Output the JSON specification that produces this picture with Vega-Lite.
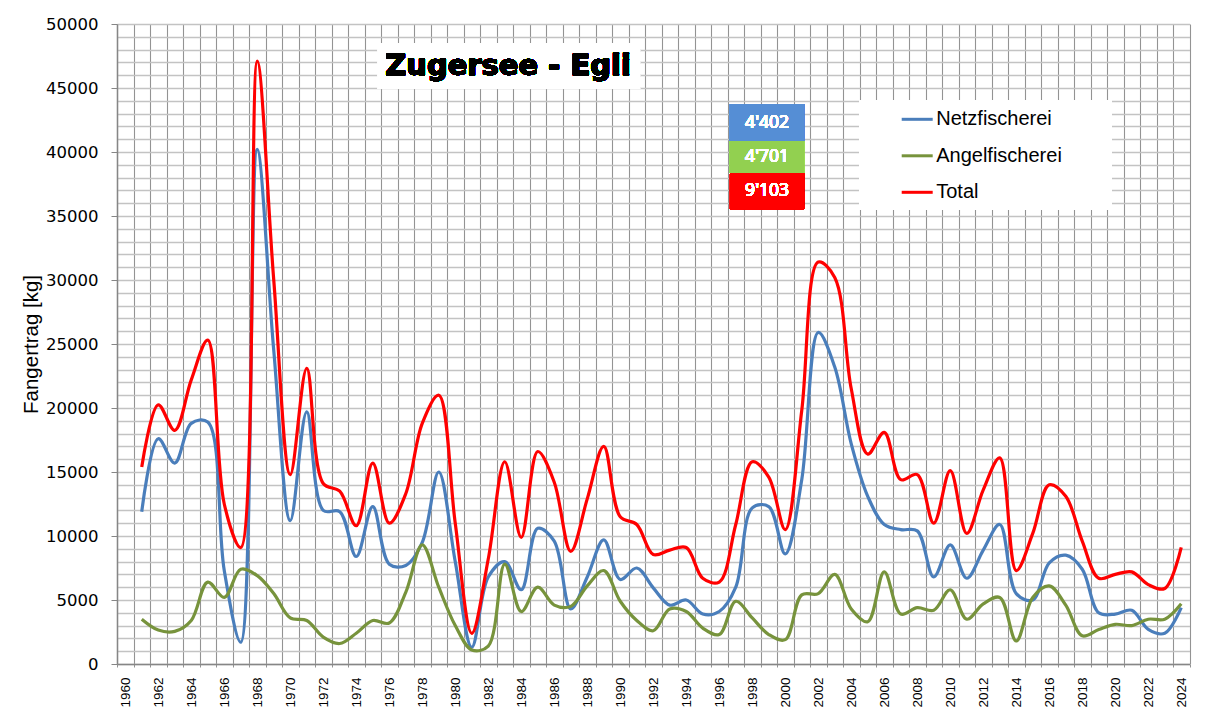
{
  "$schema": "https://vega.github.io/schema/vega-lite/v6.json",
  "width": 1072.5,
  "height": 640,
  "autosize": {"type": "none"},
  "padding": {"left": 117, "top": 24, "right": 23.5, "bottom": 58},
  "background": "white",
  "config": {"view": {"stroke": null}},
  "resolve": {"axis": {"x": "independent", "y": "independent"}},
  "data": {
    "values": [
      {"Jahr": 1961, "Netzfischerei": 11900, "Angelfischerei": 3500, "Total": 15400},
      {"Jahr": 1962, "Netzfischerei": 17600, "Angelfischerei": 2650, "Total": 20250},
      {"Jahr": 1963, "Netzfischerei": 15700, "Angelfischerei": 2550, "Total": 18250},
      {"Jahr": 1964, "Netzfischerei": 18800, "Angelfischerei": 3400, "Total": 22200},
      {"Jahr": 1965, "Netzfischerei": 18900, "Angelfischerei": 6400, "Total": 25300},
      {"Jahr": 1966, "Netzfischerei": 7300, "Angelfischerei": 5200, "Total": 12500},
      {"Jahr": 1967, "Netzfischerei": 1700, "Angelfischerei": 7400, "Total": 9100},
      {"Jahr": 1968, "Netzfischerei": 40200, "Angelfischerei": 6900, "Total": 47100},
      {"Jahr": 1969, "Netzfischerei": 24500, "Angelfischerei": 5500, "Total": 30000},
      {"Jahr": 1970, "Netzfischerei": 11200, "Angelfischerei": 3600, "Total": 14800},
      {"Jahr": 1971, "Netzfischerei": 19700, "Angelfischerei": 3400, "Total": 23100},
      {"Jahr": 1972, "Netzfischerei": 12000, "Angelfischerei": 2100, "Total": 14100},
      {"Jahr": 1973, "Netzfischerei": 11900, "Angelfischerei": 1600, "Total": 13500},
      {"Jahr": 1974, "Netzfischerei": 8400, "Angelfischerei": 2400, "Total": 10800},
      {"Jahr": 1975, "Netzfischerei": 12300, "Angelfischerei": 3400, "Total": 15700},
      {"Jahr": 1976, "Netzfischerei": 7800, "Angelfischerei": 3200, "Total": 11000},
      {"Jahr": 1977, "Netzfischerei": 7700, "Angelfischerei": 5600, "Total": 13300},
      {"Jahr": 1978, "Netzfischerei": 9500, "Angelfischerei": 9300, "Total": 18800},
      {"Jahr": 1979, "Netzfischerei": 15000, "Angelfischerei": 6000, "Total": 21000},
      {"Jahr": 1980, "Netzfischerei": 8000, "Angelfischerei": 3000, "Total": 11000},
      {"Jahr": 1981, "Netzfischerei": 1300, "Angelfischerei": 1100, "Total": 2400},
      {"Jahr": 1982, "Netzfischerei": 6800, "Angelfischerei": 1400, "Total": 8200},
      {"Jahr": 1983, "Netzfischerei": 8000, "Angelfischerei": 7800, "Total": 15800},
      {"Jahr": 1984, "Netzfischerei": 5800, "Angelfischerei": 4100, "Total": 9900},
      {"Jahr": 1985, "Netzfischerei": 10600, "Angelfischerei": 6000, "Total": 16600},
      {"Jahr": 1986, "Netzfischerei": 9600, "Angelfischerei": 4600, "Total": 14200},
      {"Jahr": 1987, "Netzfischerei": 4300, "Angelfischerei": 4500, "Total": 8800},
      {"Jahr": 1988, "Netzfischerei": 6800, "Angelfischerei": 6100, "Total": 12900},
      {"Jahr": 1989, "Netzfischerei": 9700, "Angelfischerei": 7300, "Total": 17000},
      {"Jahr": 1990, "Netzfischerei": 6600, "Angelfischerei": 4900, "Total": 11500},
      {"Jahr": 1991, "Netzfischerei": 7500, "Angelfischerei": 3400, "Total": 10900},
      {"Jahr": 1992, "Netzfischerei": 5950, "Angelfischerei": 2600, "Total": 8550},
      {"Jahr": 1993, "Netzfischerei": 4600, "Angelfischerei": 4300, "Total": 8900},
      {"Jahr": 1994, "Netzfischerei": 5000, "Angelfischerei": 4100, "Total": 9100},
      {"Jahr": 1995, "Netzfischerei": 3900, "Angelfischerei": 2800, "Total": 6700},
      {"Jahr": 1996, "Netzfischerei": 4100, "Angelfischerei": 2300, "Total": 6400},
      {"Jahr": 1997, "Netzfischerei": 6000, "Angelfischerei": 4900, "Total": 10900},
      {"Jahr": 1998, "Netzfischerei": 12200, "Angelfischerei": 3600, "Total": 15800},
      {"Jahr": 1999, "Netzfischerei": 12300, "Angelfischerei": 2300, "Total": 14600},
      {"Jahr": 2000, "Netzfischerei": 8600, "Angelfischerei": 1900, "Total": 10500},
      {"Jahr": 2001, "Netzfischerei": 14400, "Angelfischerei": 5400, "Total": 19800},
      {"Jahr": 2002, "Netzfischerei": 25900, "Angelfischerei": 5500, "Total": 31400},
      {"Jahr": 2003, "Netzfischerei": 23200, "Angelfischerei": 7000, "Total": 30200},
      {"Jahr": 2004, "Netzfischerei": 17200, "Angelfischerei": 4300, "Total": 21500},
      {"Jahr": 2005, "Netzfischerei": 13100, "Angelfischerei": 3300, "Total": 16400},
      {"Jahr": 2006, "Netzfischerei": 10900, "Angelfischerei": 7200, "Total": 18100},
      {"Jahr": 2007, "Netzfischerei": 10500, "Angelfischerei": 3900, "Total": 14400},
      {"Jahr": 2008, "Netzfischerei": 10400, "Angelfischerei": 4400, "Total": 14800},
      {"Jahr": 2009, "Netzfischerei": 6800, "Angelfischerei": 4200, "Total": 11000},
      {"Jahr": 2010, "Netzfischerei": 9300, "Angelfischerei": 5800, "Total": 15100},
      {"Jahr": 2011, "Netzfischerei": 6700, "Angelfischerei": 3500, "Total": 10200},
      {"Jahr": 2012, "Netzfischerei": 8900, "Angelfischerei": 4700, "Total": 13600},
      {"Jahr": 2013, "Netzfischerei": 10900, "Angelfischerei": 5200, "Total": 16100},
      {"Jahr": 2014, "Netzfischerei": 5500, "Angelfischerei": 1800, "Total": 7300},
      {"Jahr": 2015, "Netzfischerei": 5000, "Angelfischerei": 5200, "Total": 10200},
      {"Jahr": 2016, "Netzfischerei": 7900, "Angelfischerei": 6100, "Total": 14000},
      {"Jahr": 2017, "Netzfischerei": 8500, "Angelfischerei": 4600, "Total": 13100},
      {"Jahr": 2018, "Netzfischerei": 7400, "Angelfischerei": 2200, "Total": 9600},
      {"Jahr": 2019, "Netzfischerei": 4000, "Angelfischerei": 2700, "Total": 6700},
      {"Jahr": 2020, "Netzfischerei": 3900, "Angelfischerei": 3100, "Total": 7000},
      {"Jahr": 2021, "Netzfischerei": 4200, "Angelfischerei": 3000, "Total": 7200},
      {"Jahr": 2022, "Netzfischerei": 2700, "Angelfischerei": 3500, "Total": 6200},
      {"Jahr": 2023, "Netzfischerei": 2400, "Angelfischerei": 3500, "Total": 5900},
      {"Jahr": 2024, "Netzfischerei": 4402, "Angelfischerei": 4701, "Total": 9103}
    ]
  },
  "layer": [
    {
      "transform": [{"fold": ["Netzfischerei", "Angelfischerei", "Total"], "as": ["Serie", "Wert"]}],
      "mark": {"type": "line", "interpolate": "catmull-rom", "strokeWidth": 3.2},
      "encoding": {
        "x": {
          "field": "Jahr", "type": "quantitative",
          "scale": {"domain": [1959.5, 2024.5], "nice": false, "zero": false},
          "axis": {
            "title": null,
            "values": [1959.5,1960.5,1961.5,1962.5,1963.5,1964.5,1965.5,1966.5,1967.5,1968.5,1969.5,1970.5,1971.5,1972.5,1973.5,1974.5,1975.5,1976.5,1977.5,1978.5,1979.5,1980.5,1981.5,1982.5,1983.5,1984.5,1985.5,1986.5,1987.5,1988.5,1989.5,1990.5,1991.5,1992.5,1993.5,1994.5,1995.5,1996.5,1997.5,1998.5,1999.5,2000.5,2001.5,2002.5,2003.5,2004.5,2005.5,2006.5,2007.5,2008.5,2009.5,2010.5,2011.5,2012.5,2013.5,2014.5,2015.5,2016.5,2017.5,2018.5,2019.5,2020.5,2021.5,2022.5,2023.5,2024.5],
            "labelExpr": "(datum.value + 0.5) % 2 === 0 && datum.value < 2024 ? '' + (datum.value + 0.5) : ''",
            "labelOffset": 8.25,
            "labelAngle": -90,
            "labelFont": "Liberation Sans",
            "labelFontSize": 13.5,
            "labelColor": "black",
            "labelPadding": 10,
            "labelFlush": false,
            "labelOverlap": false,
            "labelBound": false,
            "tickSize": 3,
            "tickColor": "#939393",
            "grid": true,
            "gridColor": "#939393",
            "gridWidth": 1.1,
            "domainColor": "#868686",
            "domainWidth": 1.5
          }
        },
        "y": {
          "field": "Wert", "type": "quantitative",
          "scale": {"domain": [0, 50000], "nice": false},
          "axis": {
            "title": "Fangertrag [kg]",
            "titleFont": "Liberation Sans",
            "titleFontSize": 20.5,
            "titleFontWeight": "normal",
            "titleColor": "black",
            "titlePadding": 4,
            "values": [0,1000,2000,3000,4000,5000,6000,7000,8000,9000,10000,11000,12000,13000,14000,15000,16000,17000,18000,19000,20000,21000,22000,23000,24000,25000,26000,27000,28000,29000,30000,31000,32000,33000,34000,35000,36000,37000,38000,39000,40000,41000,42000,43000,44000,45000,46000,47000,48000,49000,50000],
            "format": "d",
            "labelExpr": "datum.value % 5000 === 0 ? datum.label : ''",
            "labelFont": "DejaVu Sans",
            "labelFontSize": 16.5,
            "labelColor": "black",
            "labelPadding": 13,
            "labelFlush": false,
            "labelOverlap": false,
            "tickSize": 6,
            "tickColor": "#868686",
            "tickOpacity": {"condition": {"test": "datum.value % 5000 === 0", "value": 1}, "value": 0},
            "grid": true,
            "gridColor": "#c3c3c3",
            "gridWidth": 1.5,
            "domainColor": "#868686",
            "domainWidth": 1.5
          }
        },
        "color": {
          "field": "Serie", "type": "nominal",
          "scale": {"domain": ["Netzfischerei", "Angelfischerei", "Total"], "range": ["#4a7ebb", "#77933c", "#ff0000"]},
          "legend": {
            "orient": "none",
            "legendX": 783.2,
            "legendY": 78.3,
            "title": null,
            "symbolType": "stroke",
            "symbolSize": 961,
            "symbolStrokeWidth": 3,
            "labelFont": "Liberation Sans",
            "labelFontSize": 20,
            "labelColor": "black",
            "labelOffset": 2,
            "rowPadding": 9.5,
            "padding": 0
          }
        }
      }
    },
    {
      "mark": {"type": "rect", "fill": "white"},
      "encoding": {
        "x": {"datum": 1975.3, "type": "quantitative", "axis": null},
        "x2": {"datum": 1991.2},
        "y": {"datum": 48520, "type": "quantitative", "axis": null},
        "y2": {"datum": 44920}
      }
    },
    {
      "mark": {"type": "text", "font": "DejaVu Sans", "fontWeight": "bold", "fontSize": 29, "fill": "black", "stroke": "black", "strokeWidth": 0.4, "align": "center", "baseline": "middle"},
      "encoding": {
        "x": {"datum": 1983.2, "type": "quantitative", "axis": null},
        "y": {"datum": 46720, "type": "quantitative", "axis": null},
        "text": {"datum": "Zugersee - Egli"}
      }
    },
    {
      "mark": {"type": "rect", "fill": "white"},
      "encoding": {
        "x": {"datum": 2004.49, "type": "quantitative", "axis": null},
        "x2": {"datum": 2019.8},
        "y": {"datum": 44060, "type": "quantitative", "axis": null},
        "y2": {"datum": 35470}
      }
    },
    {
      "mark": {"type": "rect", "fill": "#558ed5"},
      "encoding": {
        "x": {"datum": 1996.65, "type": "quantitative", "axis": null},
        "x2": {"datum": 2001.14},
        "y": {"datum": 43750, "type": "quantitative", "axis": null},
        "y2": {"datum": 40860}
      }
    },
    {
      "mark": {"type": "rect", "fill": "#92d050"},
      "encoding": {
        "x": {"datum": 1996.65, "type": "quantitative", "axis": null},
        "x2": {"datum": 2001.14},
        "y": {"datum": 40860, "type": "quantitative", "axis": null},
        "y2": {"datum": 38340}
      }
    },
    {
      "mark": {"type": "rect", "fill": "#ff0000"},
      "encoding": {
        "x": {"datum": 1996.65, "type": "quantitative", "axis": null},
        "x2": {"datum": 2001.14},
        "y": {"datum": 38340, "type": "quantitative", "axis": null},
        "y2": {"datum": 35520}
      }
    },
    {
      "mark": {"type": "text", "font": "Noto Sans", "fontWeight": "normal", "fontSize": 17.5, "fill": "white", "align": "center", "baseline": "middle"},
      "encoding": {
        "x": {"datum": 1998.9, "type": "quantitative", "axis": null},
        "y": {"datum": 42300, "type": "quantitative", "axis": null},
        "text": {"datum": "4'402"}
      }
    },
    {
      "mark": {"type": "text", "font": "Noto Sans", "fontWeight": "normal", "fontSize": 17.5, "fill": "white", "align": "center", "baseline": "middle"},
      "encoding": {
        "x": {"datum": 1998.9, "type": "quantitative", "axis": null},
        "y": {"datum": 39610, "type": "quantitative", "axis": null},
        "text": {"datum": "4'701"}
      }
    },
    {
      "mark": {"type": "text", "font": "Noto Sans", "fontWeight": "normal", "fontSize": 17.5, "fill": "white", "align": "center", "baseline": "middle"},
      "encoding": {
        "x": {"datum": 1998.9, "type": "quantitative", "axis": null},
        "y": {"datum": 36930, "type": "quantitative", "axis": null},
        "text": {"datum": "9'103"}
      }
    }
  ]
}
